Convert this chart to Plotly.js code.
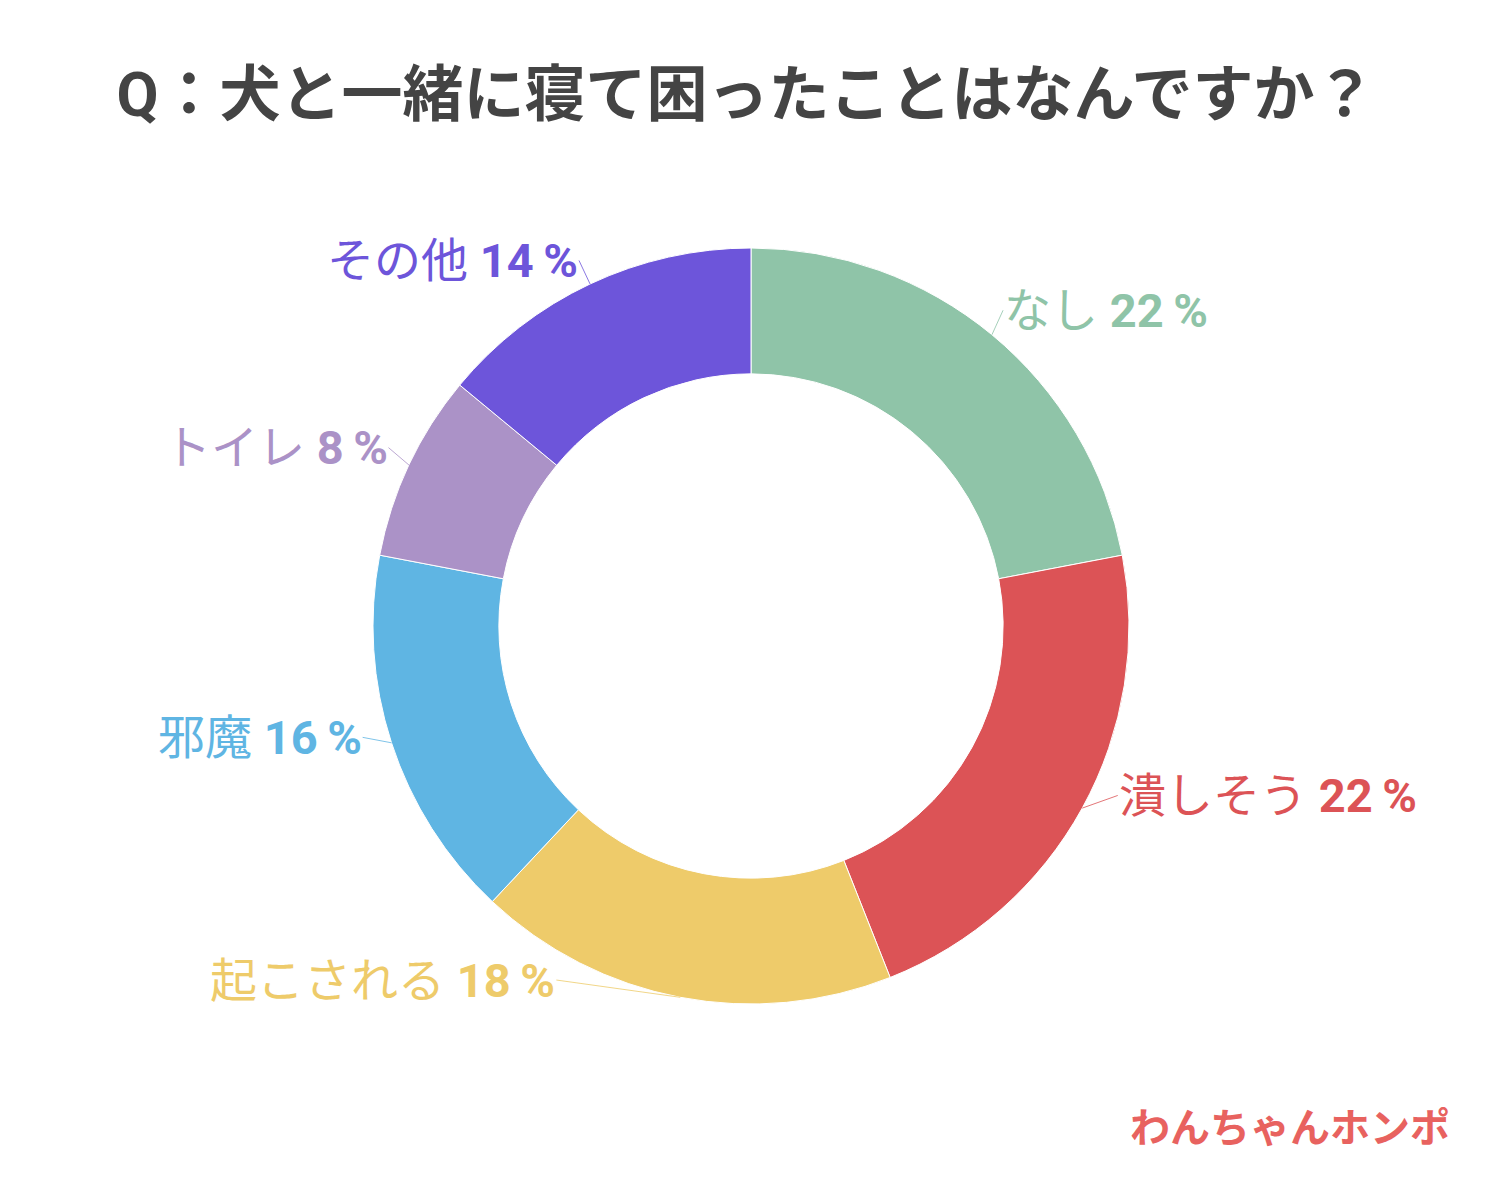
<!DOCTYPE html>
<html>
<head>
<meta charset="utf-8">
<script src="https://cdn.plot.ly/plotly-3.0.1.min.js"></script>
<style>html,body{margin:0;padding:0;background:#fff;}</style>
</head>
<body>
<div id="chart" style="width:1500px;height:1200px;"></div>
<script>
// ---- data ----
const categories = ['なし', '潰しそう', '起こされる', '邪魔', 'トイレ', 'その他'];
const values = [22, 22, 18, 16, 8, 14];
const colors = ['#8fc4a8', '#dc5356', '#eecb6a', '#5fb5e3', '#ab92c7', '#6d55da'];
const titleText = 'Q：犬と一緒に寝て困ったことはなんですか？';
const logoText = 'わんちゃんホンポ';

// ---- layout geometry (px) ----
const W = 1500, H = 1200;
const cx = 751, cy = 626, R = 378;
const labelR = 404;
// extra angular shift (deg) for labels that sit aside of their slice
const labelShift = [-1, -4, 18, 2, 1, 0];

const total = values.reduce((a, b) => a + b, 0);
const annotations = [];
let cum = 0;
values.forEach((v, i) => {
  const mid = (cum + v / 2) / total * 360;
  cum += v;
  const a = mid * Math.PI / 180;
  const hx = cx + R * Math.sin(a), hy = cy - R * Math.cos(a);
  const la = (mid + labelShift[i]) * Math.PI / 180;
  const tx = cx + labelR * Math.sin(la), ty = cy - labelR * Math.cos(la);
  const right = Math.sin(la) >= 0;
  annotations.push({
    xref: 'paper', yref: 'paper',
    x: hx / W, y: 1 - hy / H,
    ax: tx - hx, ay: ty - hy,
    axref: 'pixel', ayref: 'pixel',
    showarrow: true, arrowhead: 0, arrowwidth: 0.8, arrowcolor: colors[i],
    xanchor: right ? 'left' : 'right', yanchor: 'middle',
    borderpad: 0,
    text: categories[i] + ' <b>' + values[i] + '\u2009%</b>',
    font: {family: 'Roboto, "Noto Sans CJK JP", sans-serif', size: 47, color: colors[i]}
  });
});
annotations.push({
  xref: 'paper', yref: 'paper', x: 1452 / W, y: 1 - 1125 / H,
  xanchor: 'right', yanchor: 'middle', showarrow: false,
  text: '<b>' + logoText + '</b>',
  font: {family: '"Noto Sans CJK JP", sans-serif', size: 40, color: '#e8625f'}
});

const data = [{
  type: 'pie',
  labels: categories,
  values: values,
  sort: false,
  direction: 'clockwise',
  rotation: 0,
  hole: 0.667,
  textinfo: 'none',
  marker: {colors: colors, line: {color: '#ffffff', width: 1}},
  domain: {x: [(cx - R) / W, (cx + R) / W], y: [1 - (cy + R) / H, 1 - (cy - R) / H]},
  showlegend: false,
  hoverinfo: 'label+percent'
}];

const layout = {
  width: W, height: H,
  margin: {l: 0, r: 0, t: 0, b: 0},
  paper_bgcolor: '#ffffff',
  title: {
    text: '<b>' + titleText + '</b>',
    x: 746 / W, xanchor: 'center',
    y: 1 - 95 / H, yanchor: 'middle',
    font: {family: 'Roboto, "Noto Sans CJK JP", sans-serif', size: 61, color: '#444444'}
  },
  annotations: annotations,
  showlegend: false
};

Plotly.newPlot('chart', data, layout, {displayModeBar: false});
</script>
</body>
</html>
